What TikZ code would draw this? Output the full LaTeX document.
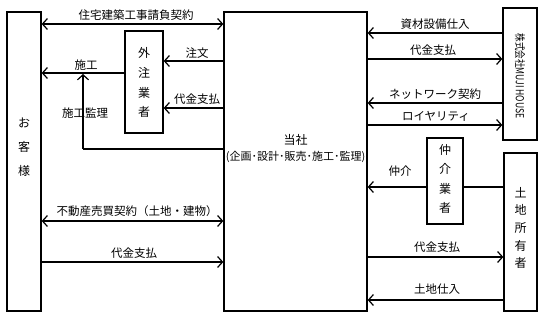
\documentclass[tikz,border=0pt]{standalone}
\usepackage{fontspec}
\setmainfont{Noto Sans CJK JP}
\usetikzlibrary{arrows.meta}
\begin{document}
\begin{tikzpicture}[x=1pt,y=-1pt,
  box/.style={draw,line width=1.3pt,inner sep=0pt},
  arr/.style={line width=1.2pt,-{Straight Barb[length=5pt,width=11pt,line width=1.2pt]}},
  darr/.style={line width=1.2pt,{Straight Barb[length=5pt,width=11pt,line width=1.2pt]}-{Straight Barb[length=5pt,width=11pt,line width=1.2pt]}},
  ln/.style={line width=1.2pt},
  lbl/.style={font=\fontsize{11.5pt}{13pt}\selectfont,inner sep=0pt},
  vt/.style={font=\fontsize{12pt}{13pt}\selectfont,inner sep=0pt}]
\useasboundingbox (0,0) rectangle (545,318);
% boxes
\node[box,minimum width=34pt,minimum height=299pt] (cust) at (24,161.5) {};
\node[box,minimum width=143pt,minimum height=299pt] (main) at (295.5,161.5) {};
\node[box,minimum width=38pt,minimum height=102pt] (gai) at (144,82) {};
\node[box,minimum width=34pt,minimum height=132pt] (muji) at (520,74) {};
\node[box,minimum width=36pt,minimum height=86pt] (chu) at (445,181) {};
\node[box,minimum width=33pt,minimum height=158pt] (owner) at (520.5,232) {};
% box texts
\node[vt] (c1) at (24,123) {お};
\node[vt] (c2) at (24,147) {客};
\node[vt] (c3) at (24,171) {様};
\node[vt] (g1) at (144,53) {外};
\node[vt] (g2) at (144,73) {注};
\node[vt] (g3) at (144,93) {業};
\node[vt] (g4) at (144,112) {者};
\node[inner sep=0pt,font=\fontsize{11pt}{12pt}\selectfont,rotate=-90] (mt) at (520,76) {\scalebox{0.78}[1]{株式会社MUJI HOUSE}};
\node[vt] (k1) at (445,150) {仲};
\node[vt] (k2) at (445,169) {介};
\node[vt] (k3) at (445,189) {業};
\node[vt] (k4) at (445,208) {者};
\node[vt] (o1) at (520.5,193) {土};
\node[vt] (o2) at (520.5,210) {地};
\node[vt] (o3) at (520.5,228) {所};
\node[vt] (o4) at (520.5,246) {有};
\node[vt] (o5) at (520.5,263) {者};
\node[vt] (mt1) at (295.5,140) {当社};
\node[font=\fontsize{11pt}{12pt}\selectfont,inner sep=0pt] (mt2) at (295.5,157) {(企画･設計･販売･施工･監理)};
% left side connectors
\draw[darr] (cust.east |- 0,24) -- (main.west |- 0,24);
\node[lbl] (l1) at (136,15) {住宅建築工事請負契約};
\draw[arr] (main.west |- 0,61) -- (gai.east |- 0,61);
\node[lbl] (l2) at (197,53) {注文};
\draw[arr] (gai.west |- 0,73) -- (cust.east |- 0,73);
\node[lbl] (l3) at (86,65) {施工};
\draw[arr] (main.west |- 0,108) -- (gai.east |- 0,108);
\node[lbl] (l4) at (197,99) {代金支払};
\coordinate (sk) at (83,149);
\coordinate (sk2) at (83,74);
\draw[ln] (main.west |- 0,149) -- (sk);
\draw[arr] (sk) -- (sk2);
\node[lbl] (l5) at (85,113) {施工監理};
\draw[darr] (cust.east |- 0,221) -- (main.west |- 0,221);
\node[lbl] (l6) at (137,211) {不動産売買契約（土地・建物）};
\draw[arr] (cust.east |- 0,262) -- (main.west |- 0,262);
\node[lbl] (l7) at (134,253) {代金支払};
% right side connectors
\draw[arr] (muji.west |- 0,33) -- (main.east |- 0,33);
\node[lbl] (r1) at (435,24) {資材設備仕入};
\draw[arr] (main.east |- 0,59) -- (muji.west |- 0,59);
\node[lbl] (r2) at (433,50) {代金支払};
\draw[arr] (muji.west |- 0,103) -- (main.east |- 0,103);
\node[lbl] (r3) at (435,94) {ネットワーク契約};
\draw[arr] (main.east |- 0,125) -- (muji.west |- 0,125);
\node[lbl] (r4) at (436,116) {ロイヤリティ};
\draw[ln] (owner.west |- 0,187) -- (chu.east |- 0,187);
\draw[arr] (chu.west |- 0,187) -- (main.east |- 0,187);
\node[lbl] (r5) at (400,171) {仲介};
\draw[arr] (main.east |- 0,257) -- (owner.west |- 0,257);
\node[lbl] (r6) at (437,247) {代金支払};
\draw[arr] (owner.west |- 0,300) -- (main.east |- 0,300);
\node[lbl] (r7) at (437,289) {土地仕入};
\end{tikzpicture}
\end{document}
